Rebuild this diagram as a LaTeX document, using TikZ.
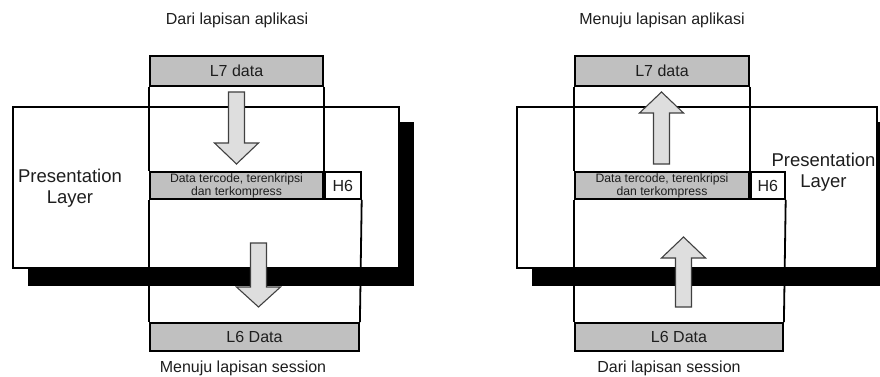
\documentclass[tikz,border=0pt]{standalone}
\usepackage{fontspec}
\setmainfont{Liberation Sans}
\definecolor{boxgray}{RGB}{192,192,192}
\definecolor{arrowgray}{RGB}{222,222,222}
\definecolor{inkgray}{RGB}{30,30,30}
\tikzset{
  frame/.style={draw=black, line width=1.8pt},
  shadowbox/.style={fill=black},
  layerbox/.style={frame, fill=white},
  databox/.style={frame, fill=boxgray, inner sep=0pt, text=inkgray,
    font=\fontsize{16}{19}\selectfont},
  hdrbox/.style={frame, fill=white, inner sep=0pt, text=inkgray,
    font=\fontsize{16}{19}\selectfont},
  payload/.style={frame, fill=boxgray, inner sep=0pt, text=inkgray, align=center,
    font=\fontsize{12.2}{13}\selectfont},
  colline/.style={draw=black, line width=1.8pt},
  blockarrow/.style={draw=black!75, line width=1.1pt, fill=arrowgray, line join=miter},
  caption/.style={text=inkgray, font=\fontsize{16}{19}\selectfont},
  layertitle/.style={text=inkgray, align=center, font=\fontsize{18.5}{21}\selectfont},
}
\begin{document}
\begin{tikzpicture}[x=1pt, y=-1pt]
\useasboundingbox (0,0) rectangle (880,377);
\clip (0,0) rectangle (880,377);
\fill[white] (0,0) rectangle (880,377);

% ---------------- sending side (left) ----------------
\fill[shadowbox] (28,122) rectangle (414,286);
\draw[layerbox] (13,107) rectangle (399,268);

\node[databox, minimum width=173pt, minimum height=30pt] (l7a) at (236.5,71) {L7 data};
\node[payload, minimum width=173pt, minimum height=27pt] (pa) at (236.5,185.5)
  {Data tercode, terenkripsi\\dan terkompress};
\node[hdrbox, minimum width=36pt, minimum height=27pt, anchor=west] (h6a) at (pa.east) {H6};
\node[databox, minimum width=209pt, minimum height=28pt] (l6a) at (254.5,337) {L6 Data};

\draw[colline] (l7a.south west) -- (pa.north west);
\draw[colline] (l7a.south east) -- (pa.north east);
\draw[colline] (pa.south west) -- (l6a.north west);
\draw[colline] (h6a.south east) -- (l6a.north east);

% downward flow
\draw[blockarrow] (228.5,92) -- (228.5,143) -- (214.5,143) -- (236.5,164)
  -- (258.5,143) -- (244.5,143) -- (244.5,92) -- cycle;
\draw[blockarrow] (250.5,243) -- (250.5,287) -- (236.5,287) -- (258.5,307)
  -- (280.5,287) -- (266.5,287) -- (266.5,243) -- cycle;

\node[layertitle] (pla) at (70,188) {Presentation\\Layer};
\node[caption] (topa) at (237,20) {Dari lapisan aplikasi};
\node[caption] (bota) at (243,368) {Menuju lapisan session};

% ---------------- receiving side (right) ----------------
\fill[shadowbox] (532,122) rectangle (892,286);
\draw[layerbox] (517,107) rectangle (877,268);

\node[databox, minimum width=174pt, minimum height=30pt] (l7b) at (662,71) {L7 data};
\node[payload, minimum width=174pt, minimum height=27pt] (pb) at (662,185.5)
  {Data tercode, terenkripsi\\dan terkompress};
\node[hdrbox, minimum width=34pt, minimum height=27pt, anchor=west] (h6b) at (pb.east) {H6};
\node[databox, minimum width=208pt, minimum height=28pt] (l6b) at (679,337) {L6 Data};

\draw[colline] (l7b.south west) -- (pb.north west);
\draw[colline] (l7b.south east) -- (pb.north east);
\draw[colline] (pb.south west) -- (l6b.north west);
\draw[colline] (h6b.south east) -- (l6b.north east);

% upward flow
\draw[blockarrow] (653.5,164) -- (653.5,113) -- (639.5,113) -- (661.5,92)
  -- (683.5,113) -- (669.5,113) -- (669.5,164) -- cycle;
\draw[blockarrow] (675.5,307) -- (675.5,258) -- (661.5,258) -- (683.5,237)
  -- (705.5,258) -- (691.5,258) -- (691.5,307) -- cycle;

\node[layertitle] (plb) at (823.5,172) {Presentation\\Layer};
\node[caption] (topb) at (662,20) {Menuju lapisan aplikasi};
\node[caption] (botb) at (669,368) {Dari lapisan session};
\end{tikzpicture}
\end{document}
